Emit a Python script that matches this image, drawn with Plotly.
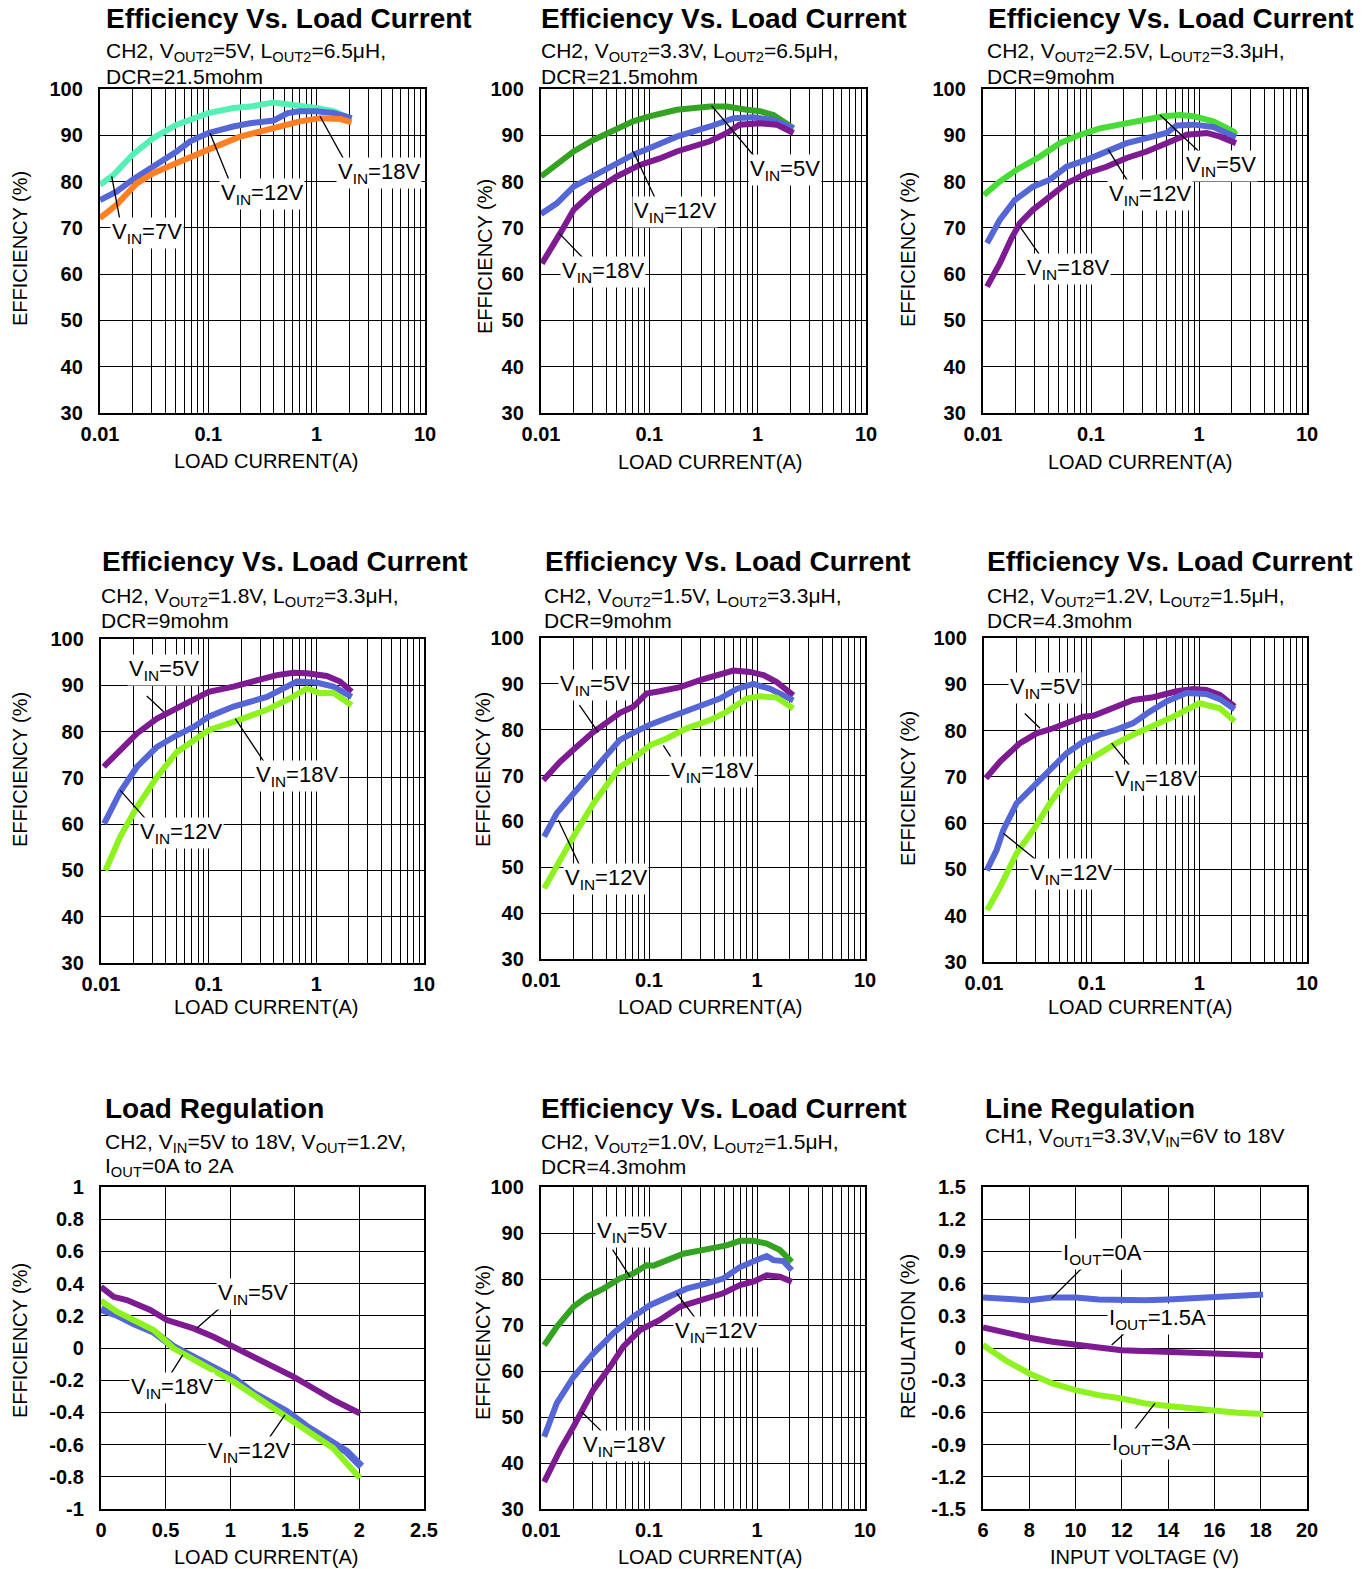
import plotly.graph_objects as go

W, H = 1372, 1569
FONT = "Liberation Sans"

C_MINT = "#55f0b4"
C_BLUE = "#5567d6"
C_ORANGE = "#ff7f22"
C_GREEN_DK = "#34a322"
C_GREEN = "#47dc36"
C_LIME = "#8ef21e"
C_PURPLE = "#7e1a92"

# ---------------- data ----------------
# Panel 1: VOUT2=5V
p1_7v_x = [0.01, 0.0133, 0.02, 0.031, 0.051, 0.068, 0.1, 0.17, 0.243, 0.4, 0.61, 1.0, 1.43, 1.76, 2.1]
p1_7v_y = [79.3, 81.4, 85.8, 89.4, 92.3, 93.3, 94.8, 95.9, 96.2, 97.1, 96.6, 95.9, 95.2, 94.4, 93.5]
p1_12v_x = [0.01, 0.0142, 0.02, 0.031, 0.051, 0.068, 0.1, 0.17, 0.243, 0.4, 0.54, 0.7, 1.0, 1.43, 2.1]
p1_12v_y = [76.0, 77.8, 80.4, 83.2, 86.5, 88.7, 90.5, 91.9, 92.6, 93.2, 94.8, 95.2, 95.2, 94.8, 93.7]
p1_18v_x = [0.01, 0.0142, 0.0218, 0.031, 0.051, 0.073, 0.1, 0.196, 0.4, 0.7, 1.07, 1.66, 2.1]
p1_18v_y = [72.1, 75.0, 79.6, 81.8, 84.0, 85.4, 86.9, 89.7, 91.5, 93.0, 93.7, 93.5, 92.8]

# Panel 2: VOUT2=3.3V
p2_5v_x = [0.01, 0.014, 0.02, 0.0304, 0.05, 0.071, 0.1, 0.179, 0.363, 0.52, 0.79, 1.05, 1.4, 2.14]
p2_5v_y = [81.1, 83.6, 86.5, 89.0, 91.5, 93.0, 94.1, 95.5, 96.2, 96.2, 95.5, 95.2, 94.4, 91.5]
p2_12v_x = [0.01, 0.014, 0.02, 0.0263, 0.043, 0.071, 0.1, 0.179, 0.363, 0.6, 0.91, 1.4, 2.14]
p2_12v_y = [73.0, 75.3, 78.9, 80.4, 82.9, 85.8, 87.2, 89.7, 91.9, 93.7, 93.9, 93.3, 91.5]
p2_18v_x = [0.0102, 0.012, 0.015, 0.02, 0.0304, 0.05, 0.082, 0.125, 0.179, 0.363, 0.52, 0.68, 1.05, 1.5, 2.14]
p2_18v_y = [62.3, 64.8, 68.8, 73.9, 77.8, 81.1, 83.6, 85.0, 86.5, 88.7, 90.5, 92.3, 92.6, 92.3, 90.5]

# Panel 3: VOUT2=2.5V
p3_5v_x = [0.0102, 0.0143, 0.0204, 0.0336, 0.0514, 0.0788, 0.121, 0.214, 0.328, 0.468, 0.668, 0.889, 1.36, 2.09, 2.2]
p3_5v_y = [77.1, 80.0, 82.5, 85.4, 88.3, 90.1, 91.5, 92.6, 93.3, 94.1, 94.4, 94.1, 93.0, 90.8, 90.1]
p3_12v_x = [0.0109, 0.0143, 0.0197, 0.029, 0.0416, 0.0593, 0.091, 0.139, 0.214, 0.328, 0.5, 0.62, 0.889, 1.36, 2.2]
p3_12v_y = [66.7, 71.7, 76.0, 78.9, 80.4, 83.2, 84.7, 86.5, 88.3, 89.4, 90.5, 92.1, 92.3, 91.8, 89.6]
p3_18v_x = [0.0109, 0.0143, 0.0183, 0.0219, 0.029, 0.0416, 0.0593, 0.091, 0.139, 0.214, 0.328, 0.5, 0.77, 1.18, 1.57, 2.2]
p3_18v_y = [57.3, 62.3, 67.7, 71.0, 73.9, 76.8, 79.6, 81.8, 83.2, 85.1, 86.5, 88.3, 90.1, 90.5, 89.7, 88.3]

# Panel 4: VOUT2=1.8V
p4_5v_x = [0.0106, 0.0151, 0.0216, 0.0331, 0.0507, 0.0724, 0.1, 0.17, 0.301, 0.43, 0.614, 0.817, 1.25, 1.66, 2.13]
p4_5v_y = [72.4, 76.0, 79.6, 82.8, 85.0, 86.8, 88.6, 89.7, 91.1, 92.2, 92.7, 92.6, 92.0, 90.8, 88.6]
p4_12v_x = [0.0107, 0.0151, 0.0216, 0.0331, 0.0507, 0.0724, 0.1, 0.17, 0.347, 0.495, 0.659, 1.0, 1.44, 2.13]
p4_12v_y = [60.1, 67.0, 72.4, 76.7, 79.2, 81.0, 83.2, 85.4, 87.5, 89.3, 90.8, 90.6, 89.7, 87.5]
p4_18v_x = [0.011, 0.0151, 0.0216, 0.0331, 0.0507, 0.0724, 0.1, 0.17, 0.347, 0.571, 0.817, 1.08, 1.44, 2.13]
p4_18v_y = [50.0, 57.3, 63.7, 70.2, 75.6, 78.2, 80.3, 82.1, 84.7, 87.2, 89.3, 88.3, 88.4, 85.7]

# Panel 5: VOUT2=1.5V
p5_5v_x = [0.0105, 0.015, 0.0214, 0.0305, 0.0436, 0.0539, 0.0716, 0.0826, 0.095, 0.126, 0.194, 0.297, 0.454, 0.603, 0.861, 1.15, 1.52, 2.17]
p5_5v_y = [69.0, 73.0, 76.3, 79.5, 82.1, 83.7, 85.0, 86.4, 87.9, 88.4, 89.3, 90.8, 91.9, 92.9, 92.6, 91.9, 90.4, 87.5]
p5_12v_x = [0.0107, 0.014, 0.02, 0.0305, 0.0406, 0.0539, 0.0716, 0.102, 0.146, 0.223, 0.342, 0.454, 0.648, 0.925, 1.32, 2.17]
p5_12v_y = [56.7, 61.8, 66.1, 71.2, 74.5, 77.8, 79.3, 81.1, 82.5, 84.2, 85.7, 86.8, 88.9, 90.0, 88.9, 86.4]
p5_18v_x = [0.0107, 0.015, 0.02, 0.0305, 0.0406, 0.0539, 0.0716, 0.102, 0.146, 0.223, 0.367, 0.523, 0.80, 1.07, 1.52, 2.17]
p5_18v_y = [45.4, 51.6, 56.7, 63.9, 67.9, 71.9, 73.7, 76.6, 78.1, 80.3, 82.1, 83.9, 86.8, 87.3, 87.0, 84.6]

# Panel 6: VOUT2=1.2V
p6_5v_x = [0.0104, 0.0141, 0.0216, 0.0308, 0.044, 0.0674, 0.0835, 0.1035, 0.148, 0.243, 0.373, 0.614, 0.875, 1.16, 1.55, 2.13]
p6_5v_y = [69.7, 73.3, 77.3, 79.4, 80.5, 82.0, 83.0, 83.2, 84.5, 86.6, 87.2, 88.5, 89.0, 88.8, 87.7, 85.2]
p6_12v_x = [0.0106, 0.0131, 0.0151, 0.0201, 0.0287, 0.041, 0.0585, 0.0835, 0.119, 0.17, 0.243, 0.347, 0.495, 0.76, 1.16, 1.55, 2.13]
p6_12v_y = [49.8, 54.2, 58.5, 64.3, 67.9, 71.5, 75.1, 77.6, 79.1, 80.2, 81.6, 84.1, 86.3, 88.1, 87.9, 86.8, 84.6]
p6_18v_x = [0.0107, 0.0141, 0.0201, 0.0287, 0.041, 0.0585, 0.0835, 0.119, 0.17, 0.243, 0.373, 0.571, 1.0, 1.25, 1.55, 2.13]
p6_18v_y = [41.2, 46.2, 53.5, 58.5, 64.3, 69.3, 72.9, 75.1, 77.3, 79.1, 80.9, 83.0, 85.9, 85.2, 84.8, 82.0]

# Panel 7: load regulation
p7_5v_x = [0.0, 0.098, 0.2, 0.381, 0.51, 0.716, 0.87, 1.025, 1.179, 1.334, 1.488, 1.643, 1.797, 2.003]
p7_5v_y = [0.38, 0.318, 0.298, 0.236, 0.174, 0.122, 0.070, 0.008, -0.054, -0.116, -0.178, -0.25, -0.322, -0.405]
p7_18v_x = [0.0, 0.124, 0.252, 0.407, 0.561, 0.716, 0.87, 1.025, 1.179, 1.334, 1.437, 1.591, 1.746, 1.9, 2.016]
p7_18v_y = [0.24, 0.205, 0.153, 0.101, 0.008, -0.054, -0.116, -0.188, -0.281, -0.353, -0.395, -0.488, -0.56, -0.643, -0.736]
p7_12v_x = [0.0, 0.124, 0.252, 0.407, 0.561, 0.716, 0.87, 1.025, 1.179, 1.334, 1.488, 1.643, 1.797, 2.003]
p7_12v_y = [0.293, 0.225, 0.174, 0.112, -0.002, -0.074, -0.136, -0.209, -0.291, -0.374, -0.446, -0.539, -0.622, -0.808]

# Panel 8: VOUT2=1.0V
p8_5v_x = [0.0107, 0.014, 0.02, 0.0265, 0.0378, 0.0539, 0.0716, 0.095, 0.11, 0.146, 0.208, 0.367, 0.523, 0.696, 0.925, 1.23, 1.63, 2.1]
p8_5v_y = [65.6, 69.6, 74.0, 76.1, 77.9, 80.1, 81.2, 83.0, 82.9, 84.1, 85.5, 86.6, 87.3, 88.3, 88.3, 87.7, 86.3, 83.7]
p8_12v_x = [0.0107, 0.014, 0.02, 0.0305, 0.0467, 0.0716, 0.102, 0.146, 0.223, 0.338, 0.487, 0.696, 0.925, 1.23, 1.42, 1.75, 2.1]
p8_12v_y = [45.7, 53.0, 58.7, 63.8, 68.2, 71.8, 74.3, 76.1, 77.9, 79.0, 80.1, 82.6, 83.7, 85.0, 84.1, 83.9, 81.9]
p8_18v_x = [0.0107, 0.015, 0.02, 0.0305, 0.0436, 0.0578, 0.0826, 0.126, 0.194, 0.297, 0.487, 0.696, 0.925, 1.23, 1.63, 2.1]
p8_18v_y = [35.9, 42.8, 47.9, 55.9, 60.9, 65.3, 68.9, 71.1, 74.0, 75.4, 76.9, 78.7, 79.4, 80.8, 80.5, 79.4]

# Panel 9: line regulation
p9_vin = [6, 7, 8, 9, 10, 11, 12, 13, 14, 15, 16, 17, 18.1]
p9_0a = [0.47, 0.452, 0.445, 0.47, 0.47, 0.452, 0.445, 0.445, 0.452, 0.461, 0.47, 0.483, 0.498]
p9_15a = [0.191, 0.141, 0.095, 0.058, 0.027, 0.005, -0.02, -0.029, -0.036, -0.045, -0.057, -0.067, -0.067]
p9_3a = [0.027, -0.119, -0.237, -0.33, -0.392, -0.439, -0.47, -0.516, -0.541, -0.563, -0.579, -0.603, -0.616]

# tick labels
eff_ticks = [30, 40, 50, 60, 70, 80, 90, 100]
log_major = [0.01, 0.1, 1, 10]
log_major_text = ["0.01", "0.1", "1", "10"]
log_minor = [k * m for m in (0.01, 0.1, 1) for k in range(2, 10)]
p7_xticks = [0, 0.5, 1, 1.5, 2, 2.5]
p7_xtext = ["0", "0.5", "1", "1.5", "2", "2.5"]
p7_yticks = [-1, -0.8, -0.6, -0.4, -0.2, 0, 0.2, 0.4, 0.6, 0.8, 1]
p7_ytext = ["-1", "-0.8", "-0.6", "-0.4", "-0.2", "0", "0.2", "0.4", "0.6", "0.8", "1"]
p9_xticks = [6, 8, 10, 12, 14, 16, 18, 20]
p9_yticks = [-1.5, -1.2, -0.9, -0.6, -0.3, 0, 0.3, 0.6, 0.9, 1.2, 1.5]
p9_ytext = ["-1.5", "-1.2", "-0.9", "-0.6", "-0.3", "0", "0.3", "0.6", "0.9", "1.2", "1.5"]

EFF_T = "Efficiency Vs. Load Current"
VIN = "V<sub>IN</sub>"
IOUT = "I<sub>OUT</sub>"

panels = [
    dict(rect=(100, 425, 89, 413), log=True,
         series=[(p1_7v_x, p1_7v_y, C_MINT), (p1_12v_x, p1_12v_y, C_BLUE), (p1_18v_x, p1_18v_y, C_ORANGE)],
         labels=[(VIN + "=7V", -1.569, 68.8, -1.892, 81.1, -1.815, 71.6),
                 (VIN + "=12V", -0.502, 77.3, -0.985, 90.5, -0.8, 79.8),
                 (VIN + "=18V", 0.575, 81.8, 0.031, 94.1, 0.262, 84.3)],
         title=(EFF_T, 104, 18),
         subs=[("CH2, V<sub>OUT2</sub>=5V, L<sub>OUT2</sub>=6.5μH,", 104, 52), ("DCR=21.5mohm", 104, 76)],
         xt=("LOAD CURRENT(A)", 266, 461), yt=("EFFICIENCY (%)", 20, 249)),
    dict(rect=(541, 866, 89, 413), log=True,
         series=[(p2_5v_x, p2_5v_y, C_GREEN_DK), (p2_12v_x, p2_12v_y, C_BLUE), (p2_18v_x, p2_18v_y, C_PURPLE)],
         labels=[(VIN + "=5V", 0.252, 82.4, -0.425, 96.4, -0.025, 85.3),
                 (VIN + "=12V", -0.763, 73.4, -1.148, 86.5, -0.932, 75.7),
                 (VIN + "=18V", -1.425, 60.4, -1.831, 68.8, -1.563, 62.3)],
         title=(EFF_T, 539, 18),
         subs=[("CH2, V<sub>OUT2</sub>=3.3V, L<sub>OUT2</sub>=6.5μH,", 539, 52), ("DCR=21.5mohm", 539, 76)],
         xt=("LOAD CURRENT(A)", 710, 462), yt=("EFFICIENCY (%)", 485, 257)),
    dict(rect=(983, 1307, 89, 413), log=True,
         series=[(p3_5v_x, p3_5v_y, C_GREEN), (p3_12v_x, p3_12v_y, C_BLUE), (p3_18v_x, p3_18v_y, C_PURPLE)],
         labels=[(VIN + "=5V", 0.202, 83.3, -0.361, 94.4, 0.041, 85.6),
                 (VIN + "=12V", -0.453, 77.0, -0.84, 86.9, -0.639, 79.3),
                 (VIN + "=18V", -1.211, 61.1, -1.66, 70.3, -1.443, 63.1)],
         title=(EFF_T, 986, 18),
         subs=[("CH2, V<sub>OUT2</sub>=2.5V, L<sub>OUT2</sub>=3.3μH,", 985, 52), ("DCR=9mohm", 985, 76)],
         xt=("LOAD CURRENT(A)", 1140, 462), yt=("EFFICIENCY (%)", 908, 250)),
    dict(rect=(101, 424, 639, 963), log=True,
         series=[(p4_5v_x, p4_5v_y, C_PURPLE), (p4_12v_x, p4_12v_y, C_BLUE), (p4_18v_x, p4_18v_y, C_LIME)],
         labels=[(VIN + "=5V", -1.418, 93.3, -1.418, 84.3, -1.589, 88.0),
                 (VIN + "=18V", -0.181, 70.4, -0.753, 82.8, -0.475, 73.1),
                 (VIN + "=12V", -1.258, 58.0, -1.821, 67.3, -1.573, 60.8)],
         title=(EFF_T, 100, 562),
         subs=[("CH2, V<sub>OUT2</sub>=1.8V, L<sub>OUT2</sub>=3.3μH,", 99, 597), ("DCR=9mohm", 99, 620)],
         xt=("LOAD CURRENT(A)", 266, 1007), yt=("EFFICIENCY (%)", 20, 770)),
    dict(rect=(541, 865, 638, 959), log=True,
         series=[(p5_5v_x, p5_5v_y, C_PURPLE), (p5_12v_x, p5_12v_y, C_BLUE), (p5_18v_x, p5_18v_y, C_LIME)],
         labels=[(VIN + "=5V", -1.5, 89.7, -1.469, 79.4, -1.654, 85.7),
                 (VIN + "=18V", -0.414, 70.7, -0.867, 76.6, -0.728, 71.5),
                 (VIN + "=12V", -1.401, 47.5, -1.84, 60.3, -1.608, 48.7)],
         title=(EFF_T, 543, 562),
         subs=[("CH2, V<sub>OUT2</sub>=1.5V, L<sub>OUT2</sub>=3.3μH,", 542, 597), ("DCR=9mohm", 542, 620)],
         xt=("LOAD CURRENT(A)", 710, 1007), yt=("EFFICIENCY (%)", 483, 770)),
    dict(rect=(984, 1307, 638, 962), log=True,
         series=[(p6_5v_x, p6_5v_y, C_PURPLE), (p6_12v_x, p6_12v_y, C_BLUE), (p6_18v_x, p6_18v_y, C_LIME)],
         labels=[(VIN + "=5V", -1.434, 89.2, -1.48, 80.5, -1.635, 84.0),
                 (VIN + "=18V", -0.407, 69.3, -0.815, 77.3, -0.614, 71.5),
                 (VIN + "=12V", -1.196, 49.1, -1.821, 57.8, -1.511, 52.0)],
         title=(EFF_T, 985, 562),
         subs=[("CH2, V<sub>OUT2</sub>=1.2V, L<sub>OUT2</sub>=1.5μH,", 985, 597), ("DCR=4.3mohm", 985, 620)],
         xt=("LOAD CURRENT(A)", 1140, 1007), yt=("EFFICIENCY (%)", 908, 789)),
    dict(rect=(101, 424, 1187, 1509), log=False,
         xr=[0, 2.5], yr=[-1, 1], xtv=p7_xticks, xtt=p7_xtext, ytv=p7_yticks, ytt=p7_ytext,
         series=[(p7_18v_x, p7_18v_y, C_BLUE, 7.5), (p7_12v_x, p7_12v_y, C_LIME), (p7_5v_x, p7_5v_y, C_PURPLE)],
         labels=[(VIN + "=5V", 1.179, 0.335, 0.741, 0.122, 0.947, 0.267),
                 (VIN + "=18V", 0.548, -0.25, 0.633, -0.043, 0.523, -0.182),
                 (VIN + "=12V", 1.146, -0.643, 1.424, -0.415, 1.282, -0.581)],
         title=("Load Regulation", 103, 1108),
         subs=[("CH2, V<sub>IN</sub>=5V to 18V, V<sub>OUT</sub>=1.2V,", 103, 1143), ("I<sub>OUT</sub>=0A to 2A", 103, 1167)],
         xt=("LOAD CURRENT(A)", 266, 1557), yt=("EFFICIENCY (%)", 20, 1341)),
    dict(rect=(541, 865, 1187, 1509), log=True,
         series=[(p8_5v_x, p8_5v_y, C_GREEN_DK), (p8_12v_x, p8_12v_y, C_BLUE), (p8_18v_x, p8_18v_y, C_PURPLE)],
         labels=[(VIN + "=5V", -1.16, 90.2, -1.176, 80.5, -1.346, 86.7),
                 (VIN + "=12V", -0.383, 68.5, -0.744, 76.9, -0.559, 71.1),
                 (VIN + "=18V", -1.231, 43.8, -1.623, 51.1, -1.423, 46.5)],
         title=(EFF_T, 539, 1108),
         subs=[("CH2, V<sub>OUT2</sub>=1.0V, L<sub>OUT2</sub>=1.5μH,", 539, 1143), ("DCR=4.3mohm", 539, 1166)],
         xt=("LOAD CURRENT(A)", 710, 1557), yt=("EFFICIENCY (%)", 483, 1343)),
    dict(rect=(983, 1307, 1187, 1509), log=False,
         xr=[6, 20], yr=[-1.5, 1.5], xtv=p9_xticks, xtt=[str(v) for v in p9_xticks], ytv=p9_yticks, ytt=p9_ytext,
         series=[(p9_vin, p9_0a, C_BLUE), (p9_vin, p9_15a, C_PURPLE), (p9_vin, p9_3a, C_LIME)],
         labels=[(IOUT + "=0A", 11.15, 0.874, 8.96, 0.461, 10.4, 0.771),
                 (IOUT + "=1.5A", 13.53, 0.269, 11.56, 0.027, 12.35, 0.182),
                 (IOUT + "=3A", 13.29, -0.895, 13.43, -0.516, 12.42, -0.796)],
         title=("Line Regulation", 983, 1108),
         subs=[("CH1, V<sub>OUT1</sub>=3.3V,V<sub>IN</sub>=6V to 18V", 983, 1137)],
         xt=("INPUT VOLTAGE (V)", 1144, 1557), yt=("REGULATION (%)", 908, 1337)),
]

fig = go.Figure()
annotations = []
tickfont = dict(family=FONT, size=20, color="black", weight="bold")


def px(x):
    return x / W


def py(y):
    return 1 - y / H


layout_axes = {}
for i, p in enumerate(panels, start=1):
    sfx = "" if i == 1 else str(i)
    xref, yref = "x" + sfx, "y" + sfx
    L, R, T, B = p["rect"]
    for s in p["series"]:
        width = s[3] if len(s) > 3 else 6
        fig.add_trace(go.Scatter(x=s[0], y=s[1], mode="lines",
                                 line=dict(color=s[2], width=width),
                                 xaxis=xref, yaxis=yref, showlegend=False, hoverinfo="skip"))
    common = dict(showgrid=True, gridcolor="black", gridwidth=1.4, showline=True, linecolor="black",
                  linewidth=2.4, mirror=True, ticks="", zeroline=False, tickfont=tickfont,
                  tickmode="array", fixedrange=True, automargin=False)
    if p["log"]:
        xa = dict(type="log", range=[-2, 1], tickvals=log_major, ticktext=log_major_text,
                  minor=dict(tickmode="array", tickvals=log_minor, showgrid=True,
                             gridcolor="black", gridwidth=1.4, ticks=""), **common)
        ya = dict(range=[30, 100], tickvals=eff_ticks, ticktext=[str(v) for v in eff_ticks], **common)
    else:
        xa = dict(range=p["xr"], tickvals=p["xtv"], ticktext=p["xtt"], **common)
        ya = dict(range=p["yr"], tickvals=p["ytv"], ticktext=p["ytt"], **common)
    xa.update(domain=[px(L), px(R)], anchor=yref, ticklabelstandoff=2)
    ya.update(domain=[py(B), py(T)], anchor=xref, ticklabelstandoff=11)
    layout_axes["xaxis" + sfx] = xa
    layout_axes["yaxis" + sfx] = ya

    # leader lines and labels
    for (txt, lx, ly, tx, ty, ax, ay) in p["labels"]:
        annotations.append(dict(x=tx, y=ty, xref=xref, yref=yref, ax=ax, ay=ay, axref=xref, ayref=yref,
                                text="", showarrow=True, arrowhead=0, arrowwidth=1.3, arrowcolor="black",
                                standoff=0, startstandoff=0))
    for (txt, lx, ly, tx, ty, ax, ay) in p["labels"]:
        annotations.append(dict(x=lx, y=ly, xref=xref, yref=yref, text=txt, showarrow=False,
                                xanchor="center", yanchor="middle", bgcolor="white", borderpad=1,
                                font=dict(family=FONT, size=22, color="black")))
    # titles
    t, tx_, ty_ = p["title"]
    annotations.append(dict(x=px(tx_), y=py(ty_), xref="paper", yref="paper", text=t, showarrow=False,
                            xanchor="left", yanchor="middle",
                            font=dict(family=FONT, size=28, color="black", weight="bold")))
    for (s, sx, sy) in p["subs"]:
        annotations.append(dict(x=px(sx), y=py(sy), xref="paper", yref="paper", text=s, showarrow=False,
                                xanchor="left", yanchor="middle",
                                font=dict(family=FONT, size=21, color="black")))
    t, tx_, ty_ = p["xt"]
    annotations.append(dict(x=px(tx_), y=py(ty_), xref="paper", yref="paper", text=t, showarrow=False,
                            xanchor="center", yanchor="middle",
                            font=dict(family=FONT, size=20, color="black")))
    t, tx_, ty_ = p["yt"]
    annotations.append(dict(x=px(tx_), y=py(ty_), xref="paper", yref="paper", text=t, showarrow=False,
                            xanchor="center", yanchor="middle", textangle=-90,
                            font=dict(family=FONT, size=20, color="black")))

fig.update_layout(template="none", width=W, height=H,
                  margin=dict(l=0, r=0, t=0, b=0, pad=0, autoexpand=False),
                  paper_bgcolor="white", plot_bgcolor="white",
                  font=dict(family=FONT, color="black"),
                  annotations=annotations, **layout_axes)

fig.write_html("out.html")
